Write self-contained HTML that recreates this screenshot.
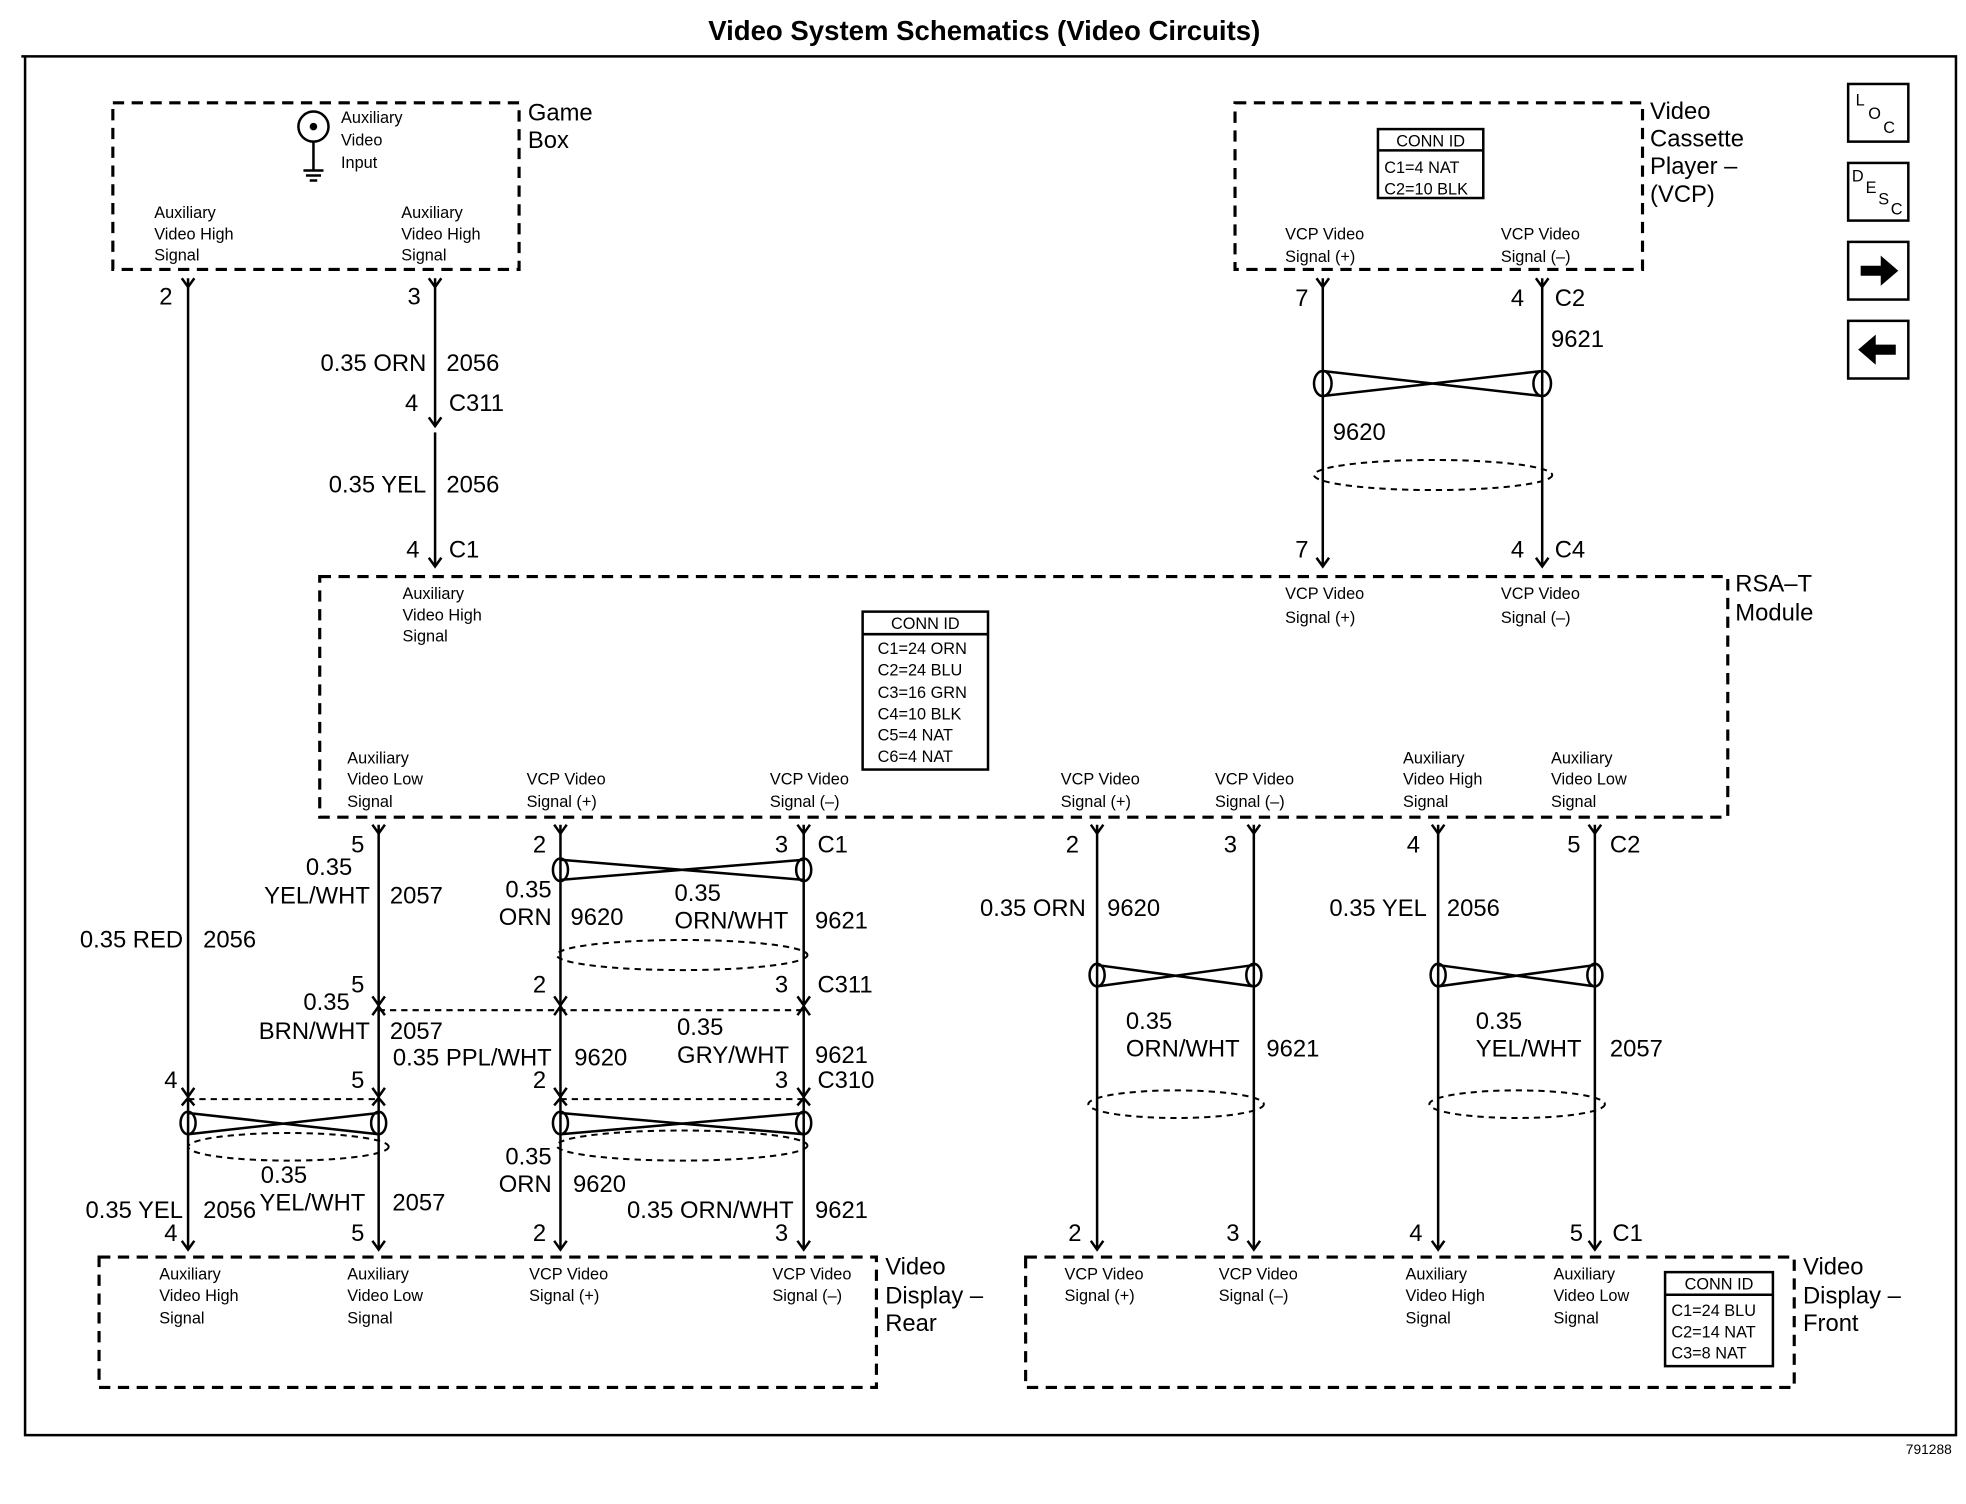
<!DOCTYPE html>
<html><head><meta charset="utf-8"><style>
html,body{margin:0;padding:0;background:#fff}
svg{display:block}
text{font-family:"Liberation Sans",sans-serif;fill:#000}
.s{font-size:13px}
.m{font-size:19px}
.b{font-size:19px}
.d{fill:none;stroke:#000;stroke-width:2.5;stroke-dasharray:9,6}
.w{fill:none;stroke:#000;stroke-width:2}
.sh{fill:none;stroke:#000;stroke-width:1.6;stroke-dasharray:5,4}
.r{text-anchor:end}
</style></head><body>
<svg width="1966" height="1504" viewBox="0 0 1568 1200" preserveAspectRatio="none">
<text x="785" y="32" style="font-size:22px;font-weight:bold" text-anchor="middle">Video System Schematics (Video Circuits)</text>
<path d="M17 45H1560V1145H20V45" class="w"/>
<text x="1520" y="1160" style="font-size:11px">791288</text>

<!-- Game box -->
<rect x="90" y="82" width="324" height="133" class="d"/>
<text x="421" y="96" class="m">Game</text><text x="421" y="118" class="m">Box</text>
<circle cx="250" cy="101" r="12" class="w"/><circle cx="250" cy="101" r="3"/>
<path d="M250 113V135M242 136H258M244 140H256M247 144H253" class="w"/>
<text x="272" y="98" class="s">Auxiliary</text><text x="272" y="116" class="s">Video</text><text x="272" y="134" class="s">Input</text>
<text x="123" y="174" class="s">Auxiliary</text><text x="123" y="191" class="s">Video High</text><text x="123" y="208" class="s">Signal</text>
<text x="320" y="174" class="s">Auxiliary</text><text x="320" y="191" class="s">Video High</text><text x="320" y="208" class="s">Signal</text>

<!-- VCP box -->
<rect x="985" y="82" width="325" height="133" class="d"/>
<rect x="1099" y="103" width="84" height="55" class="w"/><path d="M1099 120H1183" class="w"/>
<text x="1141" y="117" class="s" text-anchor="middle">CONN ID</text>
<text x="1104" y="138" class="s">C1=4 NAT</text><text x="1104" y="155" class="s">C2=10 BLK</text>
<text x="1025" y="191" class="s">VCP Video</text><text x="1025" y="209" class="s">Signal (+)</text>
<text x="1197" y="191" class="s">VCP Video</text><text x="1197" y="209" class="s">Signal (–)</text>
<text x="1316" y="95" class="m">Video</text><text x="1316" y="117" class="m">Cassette</text><text x="1316" y="139" class="m">Player –</text><text x="1316" y="161" class="m">(VCP)</text>

<!-- icons -->
<rect x="1474" y="67" width="48" height="46" class="w"/>
<text x="1480" y="84" class="s">L</text><text x="1490" y="95" class="s">O</text><text x="1502" y="106" class="s">C</text>
<rect x="1474" y="130" width="48" height="46" class="w"/>
<text x="1477" y="145" class="s">D</text><text x="1488" y="154" class="s">E</text><text x="1498" y="163" class="s">S</text><text x="1508" y="171" class="s">C</text>
<rect x="1474" y="193" width="48" height="46" class="w"/>
<path d="M1484 212H1500V204L1514 216L1500 228V220H1484Z" fill="#000"/>
<rect x="1474" y="256" width="48" height="46" class="w"/>
<path d="M1512 275H1496V267L1482 279L1496 291V283H1512Z" fill="#000"/>

<!-- RSA module -->
<rect x="255" y="460" width="1123" height="192" class="d"/>
<text x="1384" y="472" class="m">RSA–T</text><text x="1384" y="495" class="m">Module</text>
<text x="321" y="478" class="s">Auxiliary</text><text x="321" y="495" class="s">Video High</text><text x="321" y="512" class="s">Signal</text>
<text x="1025" y="478" class="s">VCP Video</text><text x="1025" y="497" class="s">Signal (+)</text>
<text x="1197" y="478" class="s">VCP Video</text><text x="1197" y="497" class="s">Signal (–)</text>
<rect x="688" y="488" width="100" height="126" class="w"/><path d="M688 506H788" class="w"/>
<text x="738" y="502" class="s" text-anchor="middle">CONN ID</text>
<text x="700" y="522" class="s">C1=24 ORN</text><text x="700" y="539" class="s">C2=24 BLU</text><text x="700" y="557" class="s">C3=16 GRN</text>
<text x="700" y="574" class="s">C4=10 BLK</text><text x="700" y="591" class="s">C5=4 NAT</text><text x="700" y="608" class="s">C6=4 NAT</text>
<text x="277" y="609" class="s">Auxiliary</text><text x="277" y="626" class="s">Video Low</text><text x="277" y="644" class="s">Signal</text>
<text x="420" y="626" class="s">VCP Video</text><text x="420" y="644" class="s">Signal (+)</text>
<text x="614" y="626" class="s">VCP Video</text><text x="614" y="644" class="s">Signal (–)</text>
<text x="846" y="626" class="s">VCP Video</text><text x="846" y="644" class="s">Signal (+)</text>
<text x="969" y="626" class="s">VCP Video</text><text x="969" y="644" class="s">Signal (–)</text>
<text x="1119" y="609" class="s">Auxiliary</text><text x="1119" y="626" class="s">Video High</text><text x="1119" y="644" class="s">Signal</text>
<text x="1237" y="609" class="s">Auxiliary</text><text x="1237" y="626" class="s">Video Low</text><text x="1237" y="644" class="s">Signal</text>

<!-- Rear display -->
<rect x="79" y="1003" width="620" height="104" class="d"/>
<text x="127" y="1021" class="s">Auxiliary</text><text x="127" y="1038" class="s">Video High</text><text x="127" y="1056" class="s">Signal</text>
<text x="277" y="1021" class="s">Auxiliary</text><text x="277" y="1038" class="s">Video Low</text><text x="277" y="1056" class="s">Signal</text>
<text x="422" y="1021" class="s">VCP Video</text><text x="422" y="1038" class="s">Signal (+)</text>
<text x="616" y="1021" class="s">VCP Video</text><text x="616" y="1038" class="s">Signal (–)</text>
<text x="706" y="1017" class="m">Video</text><text x="706" y="1040" class="m">Display –</text><text x="706" y="1062" class="m">Rear</text>

<!-- Front display -->
<rect x="818" y="1003" width="613" height="104" class="d"/>
<text x="849" y="1021" class="s">VCP Video</text><text x="849" y="1038" class="s">Signal (+)</text>
<text x="972" y="1021" class="s">VCP Video</text><text x="972" y="1038" class="s">Signal (–)</text>
<text x="1121" y="1021" class="s">Auxiliary</text><text x="1121" y="1038" class="s">Video High</text><text x="1121" y="1056" class="s">Signal</text>
<text x="1239" y="1021" class="s">Auxiliary</text><text x="1239" y="1038" class="s">Video Low</text><text x="1239" y="1056" class="s">Signal</text>
<rect x="1328" y="1015" width="86" height="75" class="w"/><path d="M1328 1033H1414" class="w"/>
<text x="1371" y="1029" class="s" text-anchor="middle">CONN ID</text>
<text x="1333" y="1050" class="s">C1=24 BLU</text><text x="1333" y="1067" class="s">C2=14 NAT</text><text x="1333" y="1084" class="s">C3=8 NAT</text>
<text x="1438" y="1017" class="m">Video</text><text x="1438" y="1040" class="m">Display –</text><text x="1438" y="1062" class="m">Front</text>

<!-- wires -->
<path d="M150 222V997M347 222V340M347 345V452M1055 222V452M1230 222V452
M302 658V997M447 658V997M641 658V997M875 658V997M1000 658V997M1147 658V997M1272 658V997" class="w"/>
<!-- chevrons -->
<g class="w">
<path d="M145 222L150 229L155 222M342 222L347 229L352 222M342 333L347 340L352 333M342 445L347 452L352 445
M1050 222L1055 229L1060 222M1225 222L1230 229L1235 222M1050 445L1055 452L1060 445M1225 445L1230 452L1235 445
M297 658L302 665L307 658M442 658L447 665L452 658M636 658L641 665L646 658M870 658L875 665L880 658M995 658L1000 665L1005 658M1142 658L1147 665L1152 658M1267 658L1272 665L1277 658
M297 795L302 802L307 795M442 795L447 802L452 795M636 795L641 802L646 795
M297 810L302 803L307 810M442 810L447 803L452 810M636 810L641 803L646 810
M145 868L150 875L155 868M297 868L302 875L307 868M442 868L447 875L452 868M636 868L641 875L646 868
M145 882L150 876L155 882M297 882L302 876L307 882M442 882L447 876L452 882M636 882L641 876L646 882
M145 990L150 997L155 990M297 990L302 997L307 990M442 990L447 997L452 990M636 990L641 997L646 990
M870 990L875 997L880 990M995 990L1000 997L1005 990M1142 990L1147 997L1152 990M1267 990L1272 997L1277 990"/>
</g>
<path d="M302 806H641M150 877H302M447 877H641" class="sh"/>

<!-- twisted pairs -->
<g class="w">
<path d="M1055 296L1230 316M1055 316L1230 296"/><ellipse cx="1055" cy="306" rx="7" ry="10"/><ellipse cx="1230" cy="306" rx="7" ry="10"/>
<path d="M447 686L641 702M447 702L641 686"/><ellipse cx="447" cy="694" rx="6" ry="9"/><ellipse cx="641" cy="694" rx="6" ry="9"/>
<path d="M150 888L302 905M150 905L302 888"/><ellipse cx="150" cy="896" rx="6" ry="9"/><ellipse cx="302" cy="896" rx="6" ry="9"/>
<path d="M447 888L641 905M447 905L641 888"/><ellipse cx="447" cy="896" rx="6" ry="9"/><ellipse cx="641" cy="896" rx="6" ry="9"/>
<path d="M875 770L1000 787M875 787L1000 770"/><ellipse cx="875" cy="778" rx="6" ry="9"/><ellipse cx="1000" cy="778" rx="6" ry="9"/>
<path d="M1147 770L1272 787M1147 787L1272 770"/><ellipse cx="1147" cy="778" rx="6" ry="9"/><ellipse cx="1272" cy="778" rx="6" ry="9"/>
</g>
<ellipse cx="1143" cy="379" rx="95" ry="12" class="sh"/>
<ellipse cx="544" cy="762" rx="100" ry="12" class="sh"/>
<ellipse cx="230" cy="915" rx="80" ry="11" class="sh"/>
<ellipse cx="544" cy="914" rx="100" ry="12" class="sh"/>
<ellipse cx="938" cy="881" rx="70" ry="11" class="sh"/>
<ellipse cx="1210" cy="881" rx="70" ry="11" class="sh"/>

<!-- labels -->
<g class="m">
<text x="127" y="243">2</text><text x="325" y="243">3</text>
<text x="340" y="296" class="r">0.35 ORN</text><text x="356" y="296">2056</text>
<text x="323" y="328">4</text><text x="358" y="328">C311</text>
<text x="340" y="393" class="r">0.35 YEL</text><text x="356" y="393">2056</text>
<text x="324" y="445">4</text><text x="358" y="445">C1</text>
<text x="1033" y="244">7</text><text x="1205" y="244">4</text><text x="1240" y="244">C2</text>
<text x="1237" y="277">9621</text><text x="1063" y="351">9620</text>
<text x="1033" y="445">7</text><text x="1205" y="445">4</text><text x="1240" y="445">C4</text>

<text x="280" y="680">5</text><text x="425" y="680">2</text><text x="618" y="680">3</text><text x="652" y="680">C1</text>
<text x="850" y="680">2</text><text x="976" y="680">3</text><text x="1122" y="680">4</text><text x="1250" y="680">5</text><text x="1284" y="680">C2</text>
<text x="244" y="698">0.35</text><text x="295" y="721" class="r">YEL/WHT</text><text x="311" y="721">2057</text>
<text x="440" y="716" class="r">0.35</text><text x="440" y="738" class="r">ORN</text><text x="455" y="738">9620</text>
<text x="538" y="719">0.35</text><text x="538" y="741">ORN/WHT</text><text x="650" y="741">9621</text>
<text x="146" y="756" class="r">0.35 RED</text><text x="162" y="756">2056</text>
<text x="866" y="731" class="r">0.35 ORN</text><text x="883" y="731">9620</text>
<text x="1138" y="731" class="r">0.35 YEL</text><text x="1154" y="731">2056</text>
<text x="280" y="792">5</text><text x="425" y="792">2</text><text x="618" y="792">3</text><text x="652" y="792">C311</text>
<text x="242" y="806" class="r" style="text-anchor:start">0.35</text>
<text x="295" y="829" class="r">BRN/WHT</text><text x="311" y="829">2057</text>
<text x="440" y="850" class="r">0.35 PPL/WHT</text><text x="458" y="850">9620</text>
<text x="540" y="826">0.35</text><text x="540" y="848">GRY/WHT</text><text x="650" y="848">9621</text>
<text x="898" y="821">0.35</text><text x="898" y="843">ORN/WHT</text><text x="1010" y="843">9621</text>
<text x="1177" y="821">0.35</text><text x="1177" y="843">YEL/WHT</text><text x="1284" y="843">2057</text>
<text x="131" y="868">4</text><text x="280" y="868">5</text><text x="425" y="868">2</text><text x="618" y="868">3</text><text x="652" y="868">C310</text>
<text x="208" y="944">0.35</text><text x="207" y="966">YEL/WHT</text><text x="313" y="966">2057</text>
<text x="146" y="972" class="r">0.35 YEL</text><text x="162" y="972">2056</text>
<text x="440" y="929" class="r">0.35</text><text x="440" y="951" class="r">ORN</text><text x="457" y="951">9620</text>
<text x="633" y="972" class="r">0.35 ORN/WHT</text><text x="650" y="972">9621</text>
<text x="131" y="990">4</text><text x="280" y="990">5</text><text x="425" y="990">2</text><text x="618" y="990">3</text>
<text x="852" y="990">2</text><text x="978" y="990">3</text><text x="1124" y="990">4</text><text x="1252" y="990">5</text><text x="1286" y="990">C1</text>
</g>
</svg>
</body></html>
